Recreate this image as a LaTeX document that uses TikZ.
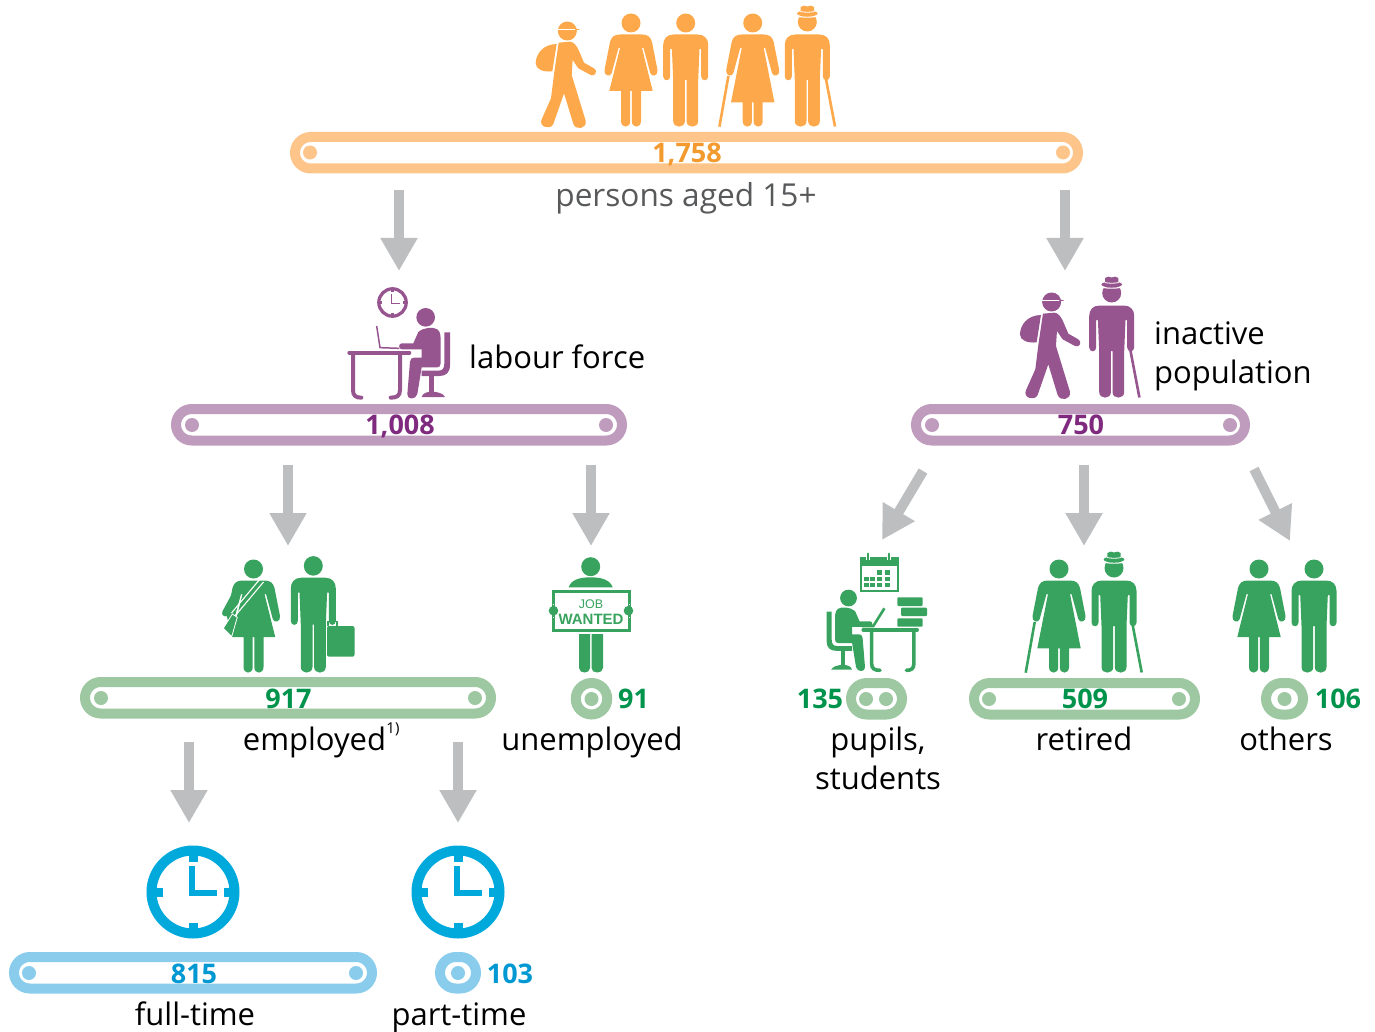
\documentclass[tikz,border=0pt]{standalone}
\usepackage{fontspec}
\setmainfont{Open Sans}
\newfontfamily\signf{Liberation Sans}
\usetikzlibrary{arrows.meta,shapes.misc}
\definecolor{orF}{HTML}{FDA94B}\definecolor{orB}{HTML}{FDC589}\definecolor{orT}{HTML}{F39A2E}
\definecolor{puF}{HTML}{96558F}\definecolor{puB}{HTML}{BF9CBD}\definecolor{puT}{HTML}{7F2A7E}
\definecolor{grF}{HTML}{38A35E}\definecolor{grB}{HTML}{9DC8A2}\definecolor{grT}{HTML}{00934B}
\definecolor{blF}{HTML}{00A9DC}\definecolor{blB}{HTML}{89CCEC}\definecolor{blT}{HTML}{0098D2}
\definecolor{arrG}{HTML}{BDBEC0}\definecolor{txtG}{HTML}{58595B}
\tikzset{
 pillbox/.style={rounded rectangle,line width=10pt,inner sep=0pt,outer sep=0pt,minimum height=31.5pt,fill=white},
 grayarrow/.style={draw=arrG,line width=10pt,-{Triangle[width=35pt,length=33pt]}},
 lab/.style={inner sep=0pt,anchor=base,font=\fontsize{31}{39}\selectfont,text=black,align=center},
 num/.style={inner sep=0pt,anchor=base,font=\fontsize{27}{30}\selectfont\bfseries},
}
% name, xl, xr, ytop, colour
\newcommand\Pill[5]{\node[pillbox,draw=#5,minimum width={(#3-#2-10)*1pt}] (#1) at ({(#2+#3)/2},{#4+20.75}) {};}
\newcommand\Dot[3]{\fill[#3] (#1,#2) circle[radius=7];}
% x, y foot, colour
\newcommand\ManBody{%
 \fill[fc] (-12,-92.5) -- (12,-92.5) .. controls (19,-92.5) and (22.5,-88) .. (22.5,-82) -- (22.5,-50.5)
  .. controls (22.5,-45.5) and (15.5,-45.5) .. (15.5,-50.5) -- (15.5,-78) -- (13.8,-78) -- (12.5,-47) -- (12.5,-6)
  .. controls (12.5,1.5) and (0.8,1.5) .. (0.8,-6) -- (0.8,-47) -- (-0.8,-47) -- (-0.8,-6)
  .. controls (-0.8,1.5) and (-12.5,1.5) .. (-12.5,-6) -- (-12.5,-47) -- (-13.8,-78) -- (-15.5,-78) -- (-15.5,-50.5)
  .. controls (-15.5,-45.5) and (-22.5,-45.5) .. (-22.5,-50.5) -- (-22.5,-82)
  .. controls (-22.5,-88) and (-19,-92.5) .. (-12,-92.5) -- cycle;}
\newcommand\Man[4][]{\begin{scope}[shift={(#2,#3)},#1]\colorlet{fc}{#4}\ManBody
 \fill[fc] (0,-104) circle[radius=9.5];\end{scope}}
\newcommand\OldMan[5][]{\begin{scope}[shift={(#2,#3)},#1]\colorlet{fc}{#4}\ManBody
 \fill[fc] (0,-105) circle[radius=9.5];
 \draw[white,line width=1.2pt] (-10,-111) .. controls (-5,-109.5) and (5,-109.5) .. (10,-111);
 \fill[fc] (-6.7,-114) -- (-6.7,-120) .. controls (-5,-122) and (-2,-121.5) .. (0,-120.5) .. controls (2,-121.5) and (5,-122) .. (6.7,-120) -- (6.7,-114) -- cycle;
 \fill[fc] (0,-113.5) ellipse[x radius=10.3,y radius=3];
 \draw[white,line width=.8pt] (-7,-115.5) .. controls (-3,-114.5) and (3,-114.5) .. (7,-115.5);
 #5\end{scope}}
% opts, x, y, colour, hem, extra
\newcommand\Woman[6][]{\begin{scope}[shift={(#2,#3)},#1]\colorlet{fc}{#4}
 \fill[fc] (0,-104) circle[radius=9.5];
 \fill[fc] (-11,-92.5) -- (11,-92.5) .. controls (17,-92.5) and (19.5,-90) .. (21,-85) -- (26.5,-57)
  .. controls (27.5,-51) and (20.5,-49.5) .. (19.3,-54) -- (12.5,-79) -- (11,-79) -- (21.7,#5) -- (10,#5) -- (10,-6)
  .. controls (10,1.5) and (0.8,1.5) .. (0.8,-6) -- (0.8,#5) -- (-0.8,#5) -- (-0.8,-6)
  .. controls (-0.8,1.5) and (-10,1.5) .. (-10,-6) -- (-10,#5) -- (-21.7,#5) -- (-11,-79) -- (-12.5,-79) -- (-19.3,-54)
  .. controls (-20.5,-49.5) and (-27.5,-51) .. (-26.5,-57) -- (-21,-85) .. controls (-19.5,-90) and (-17,-92.5) .. (-11,-92.5) -- cycle;
 #6\end{scope}}
\newcommand\Hiker[3]{\begin{scope}[shift={(#1,#2)},x=.33333pt,y=-.33333pt]\colorlet{fc}{#3}
 \fill[fc] (142,93) circle[radius=28.5];
 \draw[white,line width=1pt] (110,89) -- (172,89);
 \fill[fc] (165,85) -- (178,88) -- (178,89.5) -- (165,89.5) -- cycle;
 \fill[fc] (116,128) -- (150,125) .. controls (162,125) and (172,140) .. (178,155) -- (192,188) -- (222,205)
  .. controls (235,212) and (225,232) .. (212,225) -- (175,205) -- (158,180) -- (155,225) -- (197,362)
  .. controls (201,387) and (168,392) .. (160,372) -- (132,280) -- (100,372)
  .. controls (90,392) and (55,380) .. (65,358) -- (93,295) -- (103,215) -- cycle;
 \fill[fc] (110,132) .. controls (70,133) and (48,160) .. (47,190) .. controls (47,208) and (70,217) .. (97,214) -- cycle;
 \end{scope}}
\newcommand\Clock[4]{\begin{scope}[shift={(#1,#2)}]\colorlet{fc}{#3}
 \draw[fc,line width={10*#4*1pt}] (0,0) circle[radius={41.5*#4}];
 \fill[fc] ({-4.5*#4},{-41*#4}) rectangle ({4.5*#4},{-30.5*#4});
 \fill[fc] ({-4.5*#4},{41*#4}) rectangle ({4.5*#4},{30.5*#4});
 \fill[fc] ({-41*#4},{-4.5*#4}) rectangle ({-30.5*#4},{4.5*#4});
 \fill[fc] ({41*#4},{-4.5*#4}) rectangle ({30.5*#4},{4.5*#4});
 \draw[fc,line width={5.5*#4*1pt}] (-1,{-26*#4}) -- (-1,1) -- ({23.5*#4},1);
 \end{scope}}
\newcommand\DeskPerson{%
 \fill[fc] (677,142) circle[radius=28];
 \fill[fc] (655,186) .. controls (670,172) and (700,170) .. (712,178) .. controls (722,185) and (722,200) .. (722,215) -- (722,280)
  .. controls (722,288) and (718,292) .. (712,292) -- (665,292) -- (652,372) .. controls (648,390) and (620,390) .. (622,372)
  -- (630,275) .. controls (631,266) and (636,263) .. (642,263) -- (665,263) -- (665,238) -- (605,238)
  .. controls (595,238) and (595,220) .. (605,220) -- (640,220) -- cycle;
 \fill[fc] (733,187) -- (750,187) -- (750,285) .. controls (750,308) and (738,318) .. (718,318) -- (665,318) -- (665,302)
  -- (715,302) .. controls (728,302) and (733,295) .. (733,280) -- cycle;
 \fill[fc] (688,318) rectangle (702,368);
 \fill[fc] (665,381) .. controls (668,370) and (680,365) .. (695,365) .. controls (712,365) and (730,370) .. (735,381) -- cycle;
 \draw[fc,line width=\dlw,line cap=round] (448,248) -- (628,248);
 \draw[fc,line width=\dlw,line cap=round] (459,250) -- (459,360) .. controls (459,378) and (468,383) .. (484,383);
 \draw[fc,line width=\dlw,line cap=round] (600,250) -- (600,360) .. controls (600,378) and (590,383) .. (572,383);
}
\begin{document}
\begin{tikzpicture}[x=1pt,y=-1pt]
\useasboundingbox (0,0) rectangle (1375,1032);
\newlength\dlw
% pills
\Pill{pTop}{290}{1083}{132}{orB}\Dot{310}{152.5}{orB}\Dot{1063}{152.5}{orB}
\Pill{pLab}{171}{627}{404}{puB}\Dot{192}{425}{puB}\Dot{606}{425}{puB}
\Pill{pIna}{911}{1250}{404}{puB}\Dot{932}{425}{puB}\Dot{1230}{425}{puB}
\Pill{pEmp}{80}{496}{677}{grB}\Dot{101}{698}{grB}\Dot{475}{698}{grB}
\Pill{pUne}{572}{611}{678}{grB}\Dot{591.5}{699}{grB}
\Pill{pPup}{846}{907}{678}{grB}\Dot{866}{699}{grB}\Dot{886}{699}{grB}
\Pill{pRet}{969}{1200}{678}{grB}\Dot{989}{699}{grB}\Dot{1179}{699}{grB}
\Pill{pOth}{1261}{1308}{678}{grB}\Dot{1284.5}{699}{grB}
\Pill{pFul}{9}{377}{952}{blB}\Dot{29}{973}{blB}\Dot{356}{973}{blB}
\Pill{pPar}{435}{481}{952}{blB}\Dot{458}{973}{blB}
% numbers
\node[num,text=orT] (n1) at (687,162.5) {1,758};
\node[num,text=puT] (n2) at (400,434.5) {1,008};
\node[num,text=puT] (n3) at (1081,434.5) {750};
\node[num,text=grT] (n4) at (288.5,708) {917};
\node[num,text=grT] (n5) at (633.5,708) {91};
\node[num,text=grT] (n6) at (820,708) {135};
\node[num,text=grT] (n7) at (1085,708) {509};
\node[num,text=grT] (n8) at (1338,708) {106};
\node[num,text=blT] (n9) at (194,983) {815};
\node[num,text=blT] (n10) at (510,983) {103};
% labels
\node[lab,text=txtG,font=\fontsize{31.6}{39}\selectfont] (t1) at (686,207) {persons aged 15+};
\node[lab,anchor=base west] (t2) at (469,368.5) {labour force};
\node[lab,anchor=west,align=left] (t3) at (1154,356.5) {inactive\\population};
\node[lab] (t4) at (314.5,750.5) {employed};
\node[inner sep=0pt,font=\fontsize{15}{15}\selectfont] (t4b) at (393,729) {1)};
\node[lab] (t5) at (592,750.5) {unemployed};
\node[lab,anchor=center] (t6) at (878,758.5) {pupils,\\students};
\node[lab] (t7) at (1084,750.5) {retired};
\node[lab] (t8) at (1286,750.5) {others};
\node[lab] (t9) at (195,1025.5) {full-time};
\node[lab] (t10) at (459,1025.5) {part-time};
% arrows
\coordinate (a1s) at (399,190); \coordinate (a1e) at (399,271); \draw[grayarrow] (a1s) -- (a1e);
\coordinate (a2s) at (1065,190); \coordinate (a2e) at (1065,271); \draw[grayarrow] (a2s) -- (a2e);
\coordinate (a3s) at (288,465); \coordinate (a3e) at (288,546); \draw[grayarrow] (a3s) -- (a3e);
\coordinate (a4s) at (591,465); \coordinate (a4e) at (591,546); \draw[grayarrow] (a4s) -- (a4e);
\coordinate (a5s) at (923,471); \coordinate (a5e) at (882,540); \draw[grayarrow] (a5s) -- (a5e);
\coordinate (a6s) at (1084,465); \coordinate (a6e) at (1084,546); \draw[grayarrow] (a6s) -- (a6e);
\coordinate (a7s) at (1254,469); \coordinate (a7e) at (1290,541); \draw[grayarrow] (a7s) -- (a7e);
\coordinate (a8s) at (189,742); \coordinate (a8e) at (189,823); \draw[grayarrow] (a8s) -- (a8e);
\coordinate (a9s) at (458,742); \coordinate (a9e) at (458,823); \draw[grayarrow] (a9s) -- (a9e);
% top row figures
\Hiker{520}{0}{orF}
\Woman{631}{127}{orF}{-36}{}
\Man{685.7}{127}{orF}
\Woman{752.7}{127}{orF}{-24.7}{\draw[fc,line width=2.6pt] (-24.3,-51) -- (-33.3,-0.3);}
\OldMan{807.3}{127}{orF}{\draw[fc,line width=2.6pt] (18.7,-47.7) -- (27.7,-0.5);}
% purple
\Hiker{1004.3}{271}{puF}
\OldMan{1111.7}{398}{puF}{\draw[fc,line width=2.6pt] (18.7,-47.7) -- (27.7,-0.5);}
\Clock{392.5}{302.5}{puF}{0.33}
\begin{scope}[shift={(200,270)},x=.33333pt,y=-.33333pt]\colorlet{fc}{puF}
 \setlength\dlw{4pt}\DeskPerson
 \draw[fc,line width=1.5pt] (530,168) -- (540,233) -- (598,235);
\end{scope}
% employed
\Woman{253.5}{673}{grF}{-36}{}
\Man[yscale=1.03]{313.3}{673}{grF}
\draw[grF,line width=7pt,line cap=round] (238,590) -- (225.5,613);
\draw[white,line width=1.1pt] (263.5,582) -- (235,616);
\draw[white,line width=1.1pt] (260,579) -- (231.5,613);
\fill[grF,draw=white,line width=.8pt] (223.3,628.3) -- (232.3,614) -- (237.3,617.3) -- (231.7,636.7) -- cycle;
\fill[grF,rounded corners=2pt] (327,626) rectangle (354.5,656.7);
\draw[grF,line width=1.5pt] (328,626) -- (328,621.5) -- (337,621.5) -- (337,626);
% job wanted
\begin{scope}
\fill[grF] (590.7,566.7) circle[radius=9.5];
\fill[grF] (568.7,587.3) .. controls (571,580) and (579,577.3) .. (590.7,577.3) .. controls (602,577.3) and (610,580) .. (612.7,587.3) -- cycle;
\fill[grF] (579,634) -- (590,634) -- (590,668) .. controls (590,674) and (579,674) .. (579,668) -- cycle;
\fill[grF] (591.5,634) -- (603,634) -- (603,668) .. controls (603,674) and (591.5,674) .. (591.5,668) -- cycle;
\draw[grF,line width=3pt] (553,591) rectangle (629,630);
\draw[white,line width=1pt] (553,603.5) -- (553,604.5) (553,617) -- (553,618) (629,603.5) -- (629,604.5) (629,617) -- (629,618);
\fill[grF] (553.5,610.7) circle[radius=4.8];
\fill[grF] (628.5,610.7) circle[radius=4.8];
\node[inner sep=0pt,font=\signf\fontsize{12.5}{12.5}\selectfont,text=grF] (jobt) at (591,604) {JOB};
\node[inner sep=0pt,font=\signf\fontsize{15}{15}\selectfont\bfseries,text=grF] (wantt) at (591,619) {WANTED};
\end{scope}
% pupils
\begin{scope}[shift={(1051.6,555.4)},x=-.3pt,y=-.3pt]\colorlet{fc}{grF}
 \setlength\dlw{3.6pt}\DeskPerson
\end{scope}
\draw[grF,line width=2.6pt] (884.4,608.3) -- (873.3,626) -- (862,626);
\fill[grF,rounded corners=1pt] (897.4,597.3) rectangle (922.6,606);
\fill[grF,rounded corners=1pt] (901,607.7) rectangle (927,616);
\fill[grF,rounded corners=1pt] (897.4,618.3) rectangle (922.6,626.7);
% calendar
\draw[grF,line width=2pt,fill=white] (860.6,557.7) rectangle (897.5,590.7);
\fill[grF] (860.6,557.7) rectangle (897.5,566);
\foreach \cx in {868,889}{\draw[white,line width=3.6pt] (\cx,553) -- (\cx,560);\draw[grF,line width=1.8pt,line cap=round] (\cx,553.5) -- (\cx,560);}
\foreach \cx in {879.6,887}{\fill[grF] (\cx-2.5,570) rectangle (\cx+2.5,575);}
\foreach \cx in {866,872.7,879.6,887}{\fill[grF] (\cx-2.5,576.8) rectangle (\cx+2.5,581.2);\fill[grF] (\cx-2.5,582.8) rectangle (\cx+2.5,587.3);}
% retired, others
\Woman{1059}{673}{grF}{-24.7}{\draw[fc,line width=2.6pt] (-24.3,-51) -- (-33.3,-0.3);}
\OldMan{1114}{673}{grF}{\draw[fc,line width=2.6pt] (18.7,-47.7) -- (27.7,-0.5);}
\Woman{1259}{673}{grF}{-36}{}
\Man{1314}{673}{grF}
% clocks
\Clock{193}{892}{blF}{1}
\Clock{458}{892}{blF}{1}
\end{tikzpicture}
\end{document}
